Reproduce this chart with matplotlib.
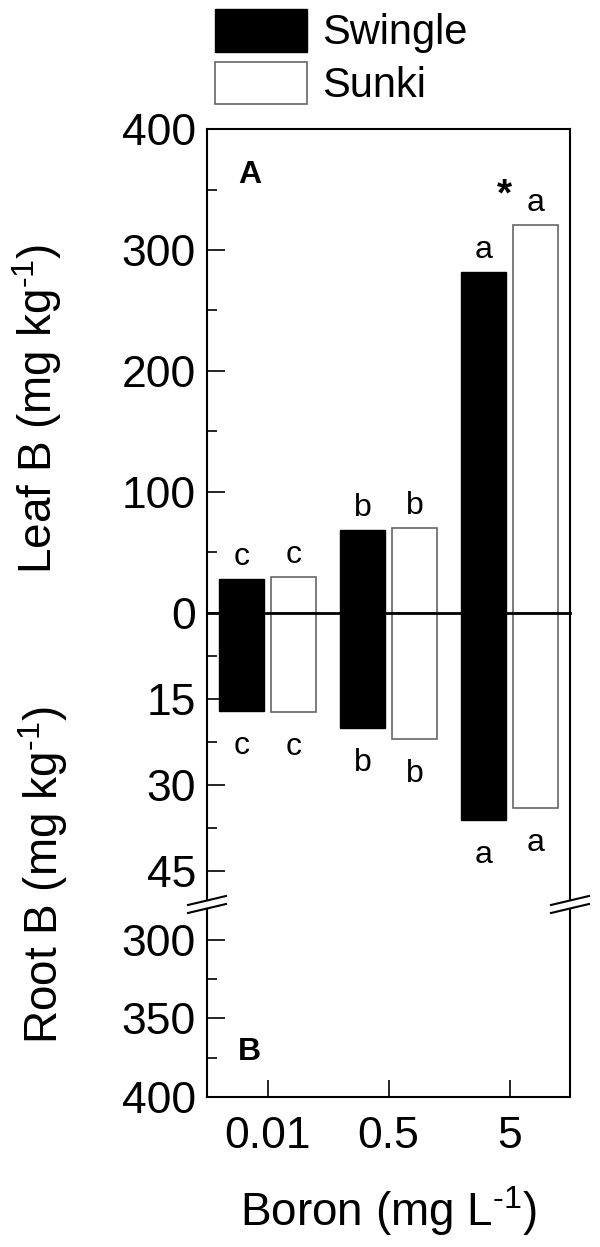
import matplotlib
matplotlib.use("Agg")
import matplotlib.pyplot as plt
from matplotlib.patches import Patch
from matplotlib.lines import Line2D
import numpy as np

plt.rcParams['font.family'] = ['Liberation Sans', 'DejaVu Sans']
plt.rcParams['mathtext.fontset'] = 'custom'
plt.rcParams['mathtext.rm'] = 'Liberation Sans'
plt.rcParams['mathtext.it'] = 'Liberation Sans:italic'
plt.rcParams['mathtext.bf'] = 'Liberation Sans:bold'

# data
boron = ["0.01", "0.5", "5"]
leaf_swingle = [28, 68.5, 282]
leaf_sunki = [30, 70, 321]
root_swingle = [17.1, 20.1, 36.1]
root_sunki = [17.3, 21.9, 34.0]
leaf_letters_swingle = ["c", "b", "a"]
leaf_letters_sunki = ["c", "b", "a"]
root_letters_swingle = ["c", "b", "a"]
root_letters_sunki = ["c", "b", "a"]

W, H = 600, 1247
fig = plt.figure(figsize=(W / 100, H / 100), dpi=100)

def fpos(top_px, bot_px):
    return [207 / W, 1 - bot_px / H, 363 / W, (bot_px - top_px) / H]

ax_r1 = fig.add_axes(fpos(613, 900))
ax_r2 = fig.add_axes(fpos(909, 1097))
ax_leaf = fig.add_axes(fpos(129, 613))
for ax in (ax_leaf, ax_r1, ax_r2):
    ax.patch.set_visible(False)

x = np.arange(len(boron))
bw = 0.37
off = 0.215
SUNKI_EDGE = '#666666'

# leaf bars
ax_leaf.bar(x - off, leaf_swingle, bw, color='black', edgecolor='black', zorder=2)
ax_leaf.bar(x + off, leaf_sunki, bw, color='white', edgecolor=SUNKI_EDGE, linewidth=1.2, zorder=2)
# root bars (axis inverted)
ax_r1.bar(x - off, root_swingle, bw, color='black', edgecolor='black', zorder=2)
ax_r1.bar(x + off, root_sunki, bw, color='white', edgecolor=SUNKI_EDGE, linewidth=1.2, zorder=2)

for i in range(len(boron)):
    ax_leaf.annotate(leaf_letters_swingle[i], (x[i] - off, leaf_swingle[i]), xytext=(0, 10),
                     textcoords='offset points', ha='center', va='baseline', fontsize=23)
    ax_leaf.annotate(leaf_letters_sunki[i], (x[i] + off, leaf_sunki[i]), xytext=(0, 10),
                     textcoords='offset points', ha='center', va='baseline', fontsize=23)
    ax_r1.annotate(root_letters_swingle[i], (x[i] - off, root_swingle[i]), xytext=(0, -31),
                   textcoords='offset points', ha='center', va='baseline', fontsize=23)
    ax_r1.annotate(root_letters_sunki[i], (x[i] + off, root_sunki[i]), xytext=(0, -31),
                   textcoords='offset points', ha='center', va='baseline', fontsize=23)

ax_leaf.text(2 - 0.04, 345, '*', ha='center', va='center', fontsize=28, fontweight='bold')
ax_leaf.text(0.118, 0.905, 'A', transform=ax_leaf.transAxes, ha='center', va='center',
             fontsize=23, fontweight='bold')
ax_r2.text(0.118, 0.239, 'B', transform=ax_r2.transAxes, ha='center', va='center',
           fontsize=23, fontweight='bold')

for ax in (ax_leaf, ax_r1, ax_r2):
    ax.set_xlim(-0.5, 2.5)
    for s in ax.spines.values():
        s.set_linewidth(1.5)
    ax.tick_params(axis='y', which='major', direction='in', length=13, width=1.2,
                   labelsize=32, pad=8)
    ax.tick_params(axis='y', which='minor', direction='in', length=7, width=1.2)
    ax.tick_params(axis='x', which='both', bottom=False, labelbottom=False)

ax_leaf.set_ylim(0, 400)
ax_leaf.set_yticks([0, 100, 200, 300, 400])
ax_leaf.set_yticks([50, 150, 250, 350], minor=True)
ax_leaf.spines['bottom'].set_linewidth(2.0)
ax_leaf.spines['bottom'].set_zorder(3)

ax_r1.set_ylim(50.06, 0)
ax_r1.set_yticks([0, 15, 30, 45])
ax_r1.set_yticklabels(['', '15', '30', '45'])
ax_r1.set_yticks([7.5, 22.5, 37.5], minor=True)
ax_r1.spines['top'].set_visible(False)
ax_r1.spines['bottom'].set_visible(False)

ax_r2.set_ylim(400, 280.3)
ax_r2.set_yticks([300, 350, 400])
ax_r2.set_yticks([325, 375], minor=True)
ax_r2.spines['top'].set_visible(False)
ax_r2.set_xticks(x)
ax_r2.set_xticklabels(boron)
ax_r2.tick_params(axis='x', which='major', bottom=True, labelbottom=True, direction='in',
                  length=12, width=1.2, labelsize=32, pad=14)
ax_r2.set_xlabel(r'Boron (mg L$^{\text{-1}}$)', fontsize=33, labelpad=19)

# y labels
fig.text(37 / W, 1 - 409 / H, r'Leaf B (mg kg$^{\text{-1}}$)', rotation=90,
         ha='center', va='center', fontsize=33)
fig.text(43 / W, 1 - 875 / H, r'Root B (mg kg$^{\text{-1}}$)', rotation=90,
         ha='center', va='center', fontsize=33)

# axis break marks
for xs in (207, 570):
    for dy in (0, 8):
        fig.add_artist(Line2D([(xs - 19) / W, (xs + 19) / W],
                              [1 - (905 + dy) / H, 1 - (896 + dy) / H],
                              transform=fig.transFigure, color='black', lw=1.5))

# legend
handles = [Patch(facecolor='black', edgecolor='black'),
           Patch(facecolor='white', edgecolor=SUNKI_EDGE, linewidth=1.2)]
fig.legend(handles, ['Swingle', 'Sunki'], loc='upper left',
           bbox_to_anchor=(215 / W, 1 - 9 / H), frameon=False, borderpad=0,
           borderaxespad=0, handlelength=2.2, handleheight=1.2, handletextpad=0.38,
           labelspacing=0.2, fontsize=30)

plt.savefig('out.png', dpi=100)
